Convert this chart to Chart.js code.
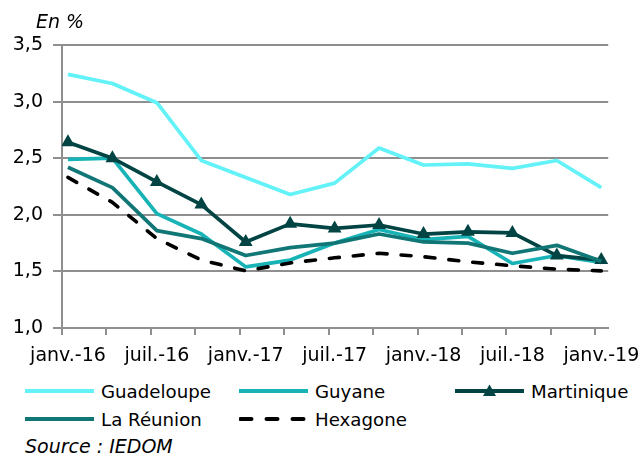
<!DOCTYPE html>
<html>
<head>
<meta charset="utf-8">
<script src="https://cdn.jsdelivr.net/npm/chart.js@4"></script>
<style>
  html, body { margin: 0; padding: 0; background: #fff; }
  body { width: 644px; height: 454px; position: relative; overflow: hidden; font-family: "DejaVu Sans", sans-serif; color: #000; }
  #wrap { position: absolute; left: 0; top: 0; width: 644px; height: 372px; }
  .note { position: absolute; font-style: italic; font-size: 19px; line-height: 20px; white-space: nowrap; }
  .leg { position: absolute; height: 24px; display: flex; align-items: center; font-size: 18.2px; white-space: nowrap; }
  .leg svg { margin-right: 7px; }
</style>
</head>
<body>
<div id="wrap"><canvas id="c" width="644" height="372"></canvas></div>
<div class="note" style="left:36px; top:11px;">En %</div>
<div id="legend"></div>
<div class="note" style="left:25px; top:436px;">Source : IEDOM</div>
<script>
const categories = ['janv.-16','avr.-16','juil.-16','oct.-16','janv.-17','avr.-17','juil.-17','oct.-17','janv.-18','avr.-18','juil.-18','oct.-18','janv.-19'];
const tickLabels = ['janv.-16','','juil.-16','','janv.-17','','juil.-17','','janv.-18','','juil.-18','','janv.-19'];
const yTicks = [1.0, 1.5, 2.0, 2.5, 3.0, 3.5];

const guadeloupe = [3.24, 3.16, 2.99, 2.48, 2.33, 2.18, 2.28, 2.59, 2.44, 2.45, 2.41, 2.48, 2.24];
const guyane     = [2.49, 2.50, 2.01, 1.83, 1.54, 1.60, 1.75, 1.87, 1.78, 1.81, 1.57, 1.64, 1.58];
const martinique = [2.64, 2.50, 2.29, 2.09, 1.76, 1.92, 1.88, 1.91, 1.83, 1.85, 1.84, 1.64, 1.60];
const reunion    = [2.42, 2.24, 1.86, 1.79, 1.64, 1.71, 1.75, 1.83, 1.76, 1.75, 1.66, 1.73, 1.59];
const hexagone   = [2.33, 2.11, 1.79, 1.60, 1.505, 1.575, 1.62, 1.66, 1.63, 1.585, 1.55, 1.52, 1.505];

const seriesNames = ['Guadeloupe', 'Guyane', 'Martinique', 'La Réunion', 'Hexagone'];
const seriesValues = [guadeloupe, guyane, martinique, reunion, hexagone];
const seriesColors = ['#63F2F7', '#17B3B6', '#024444', '#117676', '#000000'];

const TICK_SHIFT = 0.134; // tick marks sit slightly before each data point (date axis)

const datasets = seriesNames.map((name, s) => ({
  label: name,
  data: seriesValues[s].map((v, i) => ({ x: i, y: v })),
  borderColor: seriesColors[s],
  backgroundColor: seriesColors[s],
  borderWidth: s === 4 ? 3.6 : 3.7,
  borderDash: s === 4 ? [10, 14] : [],
  borderCapStyle: s === 4 ? 'round' : 'butt',
  borderJoinStyle: 'round',
  pointStyle: 'triangle',
  pointRadius: s === 2 ? 8 : 0,
  pointBorderWidth: 0,
  pointHoverRadius: s === 2 ? 8 : 0,
  tension: 0,
  order: seriesNames.length - 1 - s
}));

const gridColor = '#8f8f8f';

new Chart(document.getElementById('c'), {
  type: 'line',
  data: { datasets },
  options: {
    responsive: false,
    animation: false,
    layout: { padding: { top: 45, right: 33, left: 0, bottom: 0 } },
    plugins: { legend: { display: false }, tooltip: { enabled: false } },
    scales: {
      x: {
        type: 'linear',
        min: -TICK_SHIFT,
        max: categories.length - 1 + 0.156,
        afterBuildTicks: (scale) => {
          scale.ticks = categories.map((c, i) => ({ value: i - TICK_SHIFT }));
        },
        afterFit: (scale) => { scale.height = 44; },
        ticks: {
          autoSkip: false,
          maxRotation: 0,
          labelOffset: 6,
          padding: 10,
          color: '#000',
          font: { family: 'DejaVu Sans', size: 19 },
          callback: (v, i) => tickLabels[i]
        },
        grid: { drawOnChartArea: false, drawTicks: true, tickLength: 7, color: gridColor, lineWidth: 2 },
        border: { display: true, color: gridColor, width: 2 }
      },
      y: {
        min: 1.0,
        max: 3.5,
        afterBuildTicks: (scale) => { scale.ticks = yTicks.map(v => ({ value: v })); },
        afterFit: (scale) => { scale.width = 62; },
        ticks: {
          padding: 10,
          color: '#000',
          font: { family: 'DejaVu Sans', size: 19 },
          callback: (v) => v.toFixed(1).replace('.', ',')
        },
        grid: { drawTicks: true, tickLength: 9, color: gridColor, lineWidth: 2 },
        border: { display: true, color: gridColor, width: 2 }
      }
    }
  }
});

// HTML legend built from the series definitions
const legendPos = [[25, 379], [239, 379], [455, 379], [25, 407], [239, 407]];
const legendEl = document.getElementById('legend');
seriesNames.forEach((name, s) => {
  const d = document.createElement('div');
  d.className = 'leg';
  d.style.left = legendPos[s][0] + 'px';
  d.style.top = legendPos[s][1] + 'px';
  const c = seriesColors[s];
  let svg = '<svg width="69" height="24" viewBox="0 0 69 24">';
  if (s === 4) {
    svg += '<line x1="1.5" y1="12" x2="68" y2="12" stroke="' + c + '" stroke-width="4" stroke-dasharray="11 15" stroke-linecap="round"/>';
  } else {
    svg += '<line x1="0" y1="12" x2="69" y2="12" stroke="' + c + '" stroke-width="4"/>';
  }
  if (s === 2) {
    svg += '<polygon points="34.5,5.5 41,17 28,17" fill="' + c + '"/>';
  }
  svg += '</svg>';
  d.innerHTML = svg + '<span>' + name + '</span>';
  legendEl.appendChild(d);
});
</script>
</body>
</html>
